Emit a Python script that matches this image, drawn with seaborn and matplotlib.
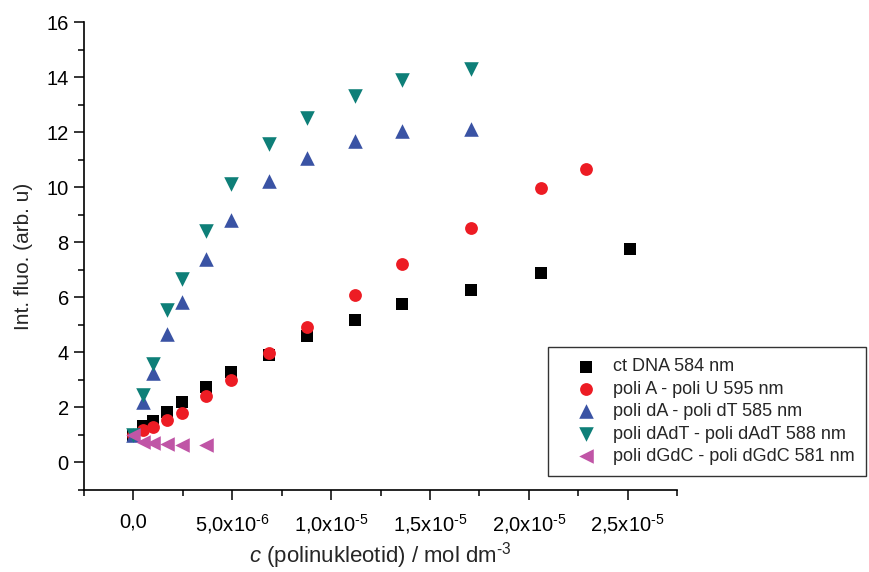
import matplotlib
matplotlib.use("Agg")
import matplotlib.pyplot as plt
import matplotlib.ticker as mticker
import seaborn as sns

# concentrations (mol dm^-3) and relative fluorescence intensities
x_ct = [0, 0.47e-6, 0.98e-6, 1.69e-6, 2.45e-6, 3.68e-6, 4.92e-6, 6.86e-6, 8.8e-6, 11.2e-6, 13.6e-6, 17.1e-6, 20.6e-6, 25.1e-6]
y_ct = [1.0, 1.31, 1.52, 1.83, 2.2, 2.74, 3.28, 3.92, 4.58, 5.18, 5.77, 6.27, 6.88, 7.76]

x_au = [0, 0.47e-6, 0.98e-6, 1.69e-6, 2.45e-6, 3.68e-6, 4.92e-6, 6.86e-6, 8.8e-6, 11.2e-6, 13.6e-6, 17.1e-6, 20.6e-6, 22.9e-6]
y_au = [1.0, 1.18, 1.29, 1.53, 1.81, 2.4, 3.0, 3.98, 4.91, 6.09, 7.21, 8.5, 9.96, 10.66]

x_dadt = [0, 0.47e-6, 0.98e-6, 1.69e-6, 2.45e-6, 3.68e-6, 4.92e-6, 6.86e-6, 8.8e-6, 11.2e-6, 13.6e-6, 17.1e-6]
y_dadt = [1.0, 2.2, 3.25, 4.68, 5.82, 7.39, 8.8, 10.23, 11.07, 11.68, 12.04, 12.1]

x_alt = [0, 0.47e-6, 0.98e-6, 1.69e-6, 2.45e-6, 3.68e-6, 4.92e-6, 6.86e-6, 8.8e-6, 11.2e-6, 13.6e-6, 17.1e-6]
y_alt = [1.0, 2.44, 3.59, 5.55, 6.67, 8.42, 10.13, 11.58, 12.5, 13.3, 13.9, 14.28]

x_gc = [0, 0.47e-6, 0.98e-6, 1.69e-6, 2.45e-6, 3.68e-6]
y_gc = [1.0, 0.75, 0.69, 0.66, 0.65, 0.65]

labels = ["ct DNA 584 nm", "poli A - poli U 595 nm", "poli dA - poli dT 585 nm",
          "poli dAdT - poli dAdT 588 nm", "poli dGdC - poli dGdC 581 nm"]
xticks = [0, 5e-6, 1e-5, 1.5e-5, 2e-5, 2.5e-5]
xticklabels = ["0,0", "5,0x10$^{\u20106}$", "1,0x10$^{\u20105}$", "1,5x10$^{\u20105}$",
               "2,0x10$^{\u20105}$", "2,5x10$^{\u20105}$"]

sns.set_style("ticks")
plt.rcParams["font.family"] = ["Liberation Sans", "DejaVu Sans"]
plt.rcParams["mathtext.fontset"] = "custom"
plt.rcParams["mathtext.rm"] = "Liberation Sans"
plt.rcParams["mathtext.it"] = "Liberation Sans:italic"

fig = plt.figure(figsize=(8.7, 5.72), dpi=100)
ax = fig.add_axes([0.0966, 0.1434, 0.6816, 0.8181])

series = [
    (x_ct, y_ct, "s", "#000000", 70),
    (x_au, y_au, "o", "#ED1C24", 85),
    (x_dadt, y_dadt, "^", "#3A53A4", 110),
    (x_alt, y_alt, "v", "#0E7F78", 110),
    (x_gc, y_gc, "<", "#C055A6", 110),
]
for (xs, ys, mk, col, size), lab in zip(series, labels):
    sns.scatterplot(x=xs, y=ys, marker=mk, color=col, s=size, linewidth=0,
                    label=lab, ax=ax)

ax.set_xlim(-2.5e-6, 2.75e-5)
ax.set_ylim(-1, 16)
ax.xaxis.set_major_locator(mticker.FixedLocator(xticks))
ax.xaxis.set_major_formatter(mticker.FixedFormatter(xticklabels))
ax.xaxis.set_minor_locator(mticker.MultipleLocator(2.5e-6))
ax.yaxis.set_major_locator(mticker.MultipleLocator(2))
ax.yaxis.set_minor_locator(mticker.MultipleLocator(1))

sns.despine(ax=ax)
for sp in ["left", "bottom"]:
    ax.spines[sp].set_linewidth(1.2)
    ax.spines[sp].set_color("black")
ax.tick_params(which="major", direction="out", length=7, width=1.1, labelsize=14.5,
               color="black", labelcolor="black")
ax.tick_params(which="minor", direction="out", length=4, width=1.1, color="black")
ax.tick_params(axis="x", which="major", pad=9)
ax.tick_params(axis="y", which="major", pad=4)

ax.set_xlabel("$c$ (polinukleotid) / mol dm$^{\u20103}$", fontsize=16, labelpad=3)
ax.set_ylabel("Int. fluo. (arb. u)", fontsize=15, labelpad=10)

leg = ax.legend(loc="upper left", bbox_to_anchor=(0.63, 0.393),
                bbox_transform=fig.transFigure, fontsize=13, frameon=True,
                fancybox=False, edgecolor="#333333", framealpha=1,
                borderpad=0.62, labelspacing=0.3, handlelength=3.0,
                handletextpad=0.0, borderaxespad=0)
leg.get_frame().set_linewidth(1.0)

fig.savefig("out.png", dpi=100)
